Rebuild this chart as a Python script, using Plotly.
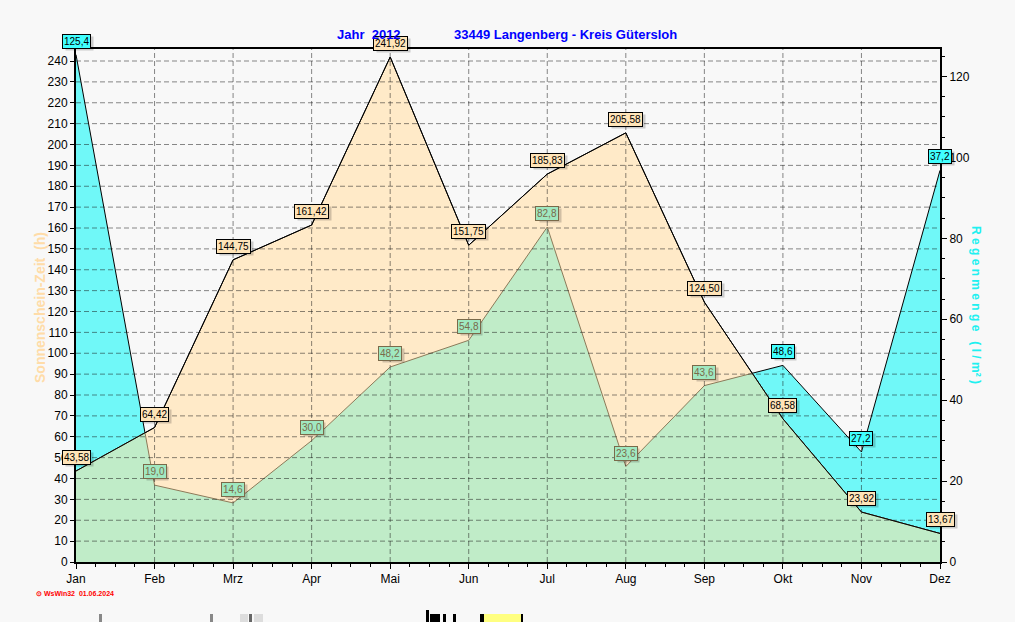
import plotly.graph_objects as go

months = ["Jan", "Feb", "Mrz", "Apr", "Mai", "Jun", "Jul", "Aug", "Sep", "Okt", "Nov", "Dez"]
sun_hours = [43.58, 64.42, 144.75, 161.42, 241.92, 151.75, 185.83, 205.58, 124.50, 68.58, 23.92, 13.67]
rain_mm = [125.4, 19.0, 14.6, 30.0, 48.2, 54.8, 82.8, 23.6, 43.6, 48.6, 27.2, 96.8]
rain_label_text = ["125,4", "19,0", "14,6", "30,0", "48,2", "54,8", "82,8", "23,6", "43,6", "48,6", "27,2", "37,2"]
left_ticks = list(range(0, 250, 10))
right_ticks = list(range(0, 140, 20))

L_MAX = 245.75
R_MAX = 126.8
ratio = L_MAX / R_MAX

xs = list(range(len(months)))
rain_l = [r * ratio for r in rain_mm]

# overlap (min) curve, with crossing points
ox, oy = [], []
for i in range(len(xs)):
    ox.append(xs[i]); oy.append(min(sun_hours[i], rain_l[i]))
    if i < len(xs) - 1:
        d0 = sun_hours[i] - rain_l[i]
        d1 = sun_hours[i + 1] - rain_l[i + 1]
        if d0 * d1 < 0:
            t = d0 / (d0 - d1)
            ox.append(xs[i] + t)
            oy.append(sun_hours[i] + t * (sun_hours[i + 1] - sun_hours[i]))

CYAN = "#70F8F8"
BEIGE = "#FFEAC8"
GREEN = "#C0ECC8"
BG = "#F8F8F8"

fig = go.Figure()
fig.add_trace(go.Scatter(x=xs, y=rain_l, mode="lines", fill="tozeroy", fillcolor=CYAN,
                         line=dict(color="black", width=1), hoverinfo="skip", showlegend=False))
fig.add_trace(go.Scatter(x=xs, y=sun_hours, mode="lines", fill="tozeroy", fillcolor=BEIGE,
                         line=dict(color="black", width=1), hoverinfo="skip", showlegend=False))
fig.add_trace(go.Scatter(x=ox, y=oy, mode="lines", fill="tozeroy", fillcolor=GREEN,
                         line=dict(color="#8C7A5A", width=1), hoverinfo="skip", showlegend=False))
fig.add_trace(go.Scatter(x=xs, y=sun_hours, mode="lines",
                         line=dict(color="black", width=1), hoverinfo="skip", showlegend=False))
# invisible trace to activate right axis
fig.add_trace(go.Scatter(x=xs, y=rain_mm, yaxis="y2", mode="lines", opacity=0,
                         line=dict(width=0), hoverinfo="skip", showlegend=False))

shapes = []
GRID = dict(color="rgba(20,20,20,0.5)", width=1, dash="5px,3px")
for v in left_ticks[1:]:
    shapes.append(dict(type="line", xref="x", yref="y", x0=0, x1=11, y0=v, y1=v, line=GRID, layer="above"))
for i in xs[1:-1]:
    shapes.append(dict(type="line", xref="x", yref="y", x0=i, x1=i, y0=0, y1=L_MAX, line=GRID, layer="above"))

def px(x):
    return (x - 76) / 864
def py(y):
    return (562 - y) / 513

# bottom artifacts (cropped elements)
for (x0, x1, c) in [(99, 102, "#888"), (210, 213, "#888"), (249, 252, "#666"), (240, 248, "#ddd"), (254, 263, "#ddd")]:
    shapes.append(dict(type="rect", xref="paper", yref="paper", x0=px(x0), x1=px(x1), y0=py(622), y1=py(614),
                       fillcolor=c, line=dict(width=0), layer="above"))
for (x0, x1, y0, c) in [(426, 429, 610, "black"), (430, 440, 614, "black"), (443, 446, 614, "black"),
                        (453, 456, 614, "black"), (480, 484, 614, "black"), (484, 521, 614, "#FFFF80"),
                        (521, 523, 614, "black")]:
    shapes.append(dict(type="rect", xref="paper", yref="paper", x0=px(x0), x1=px(x1), y0=py(622), y1=py(y0),
                       fillcolor=c, line=dict(width=0), layer="above"))

ann = []
FONT = "Arial, Liberation Sans, sans-serif"

def blank(text):
    # same-width invisible placeholder for the drop shadow box
    return "".join("\u2007" if ch.isdigit() else "\u2008" for ch in text)

def label(x, y, yref, text, bg, fg, border):
    ann.append(dict(x=x, y=y, xref="x", yref=yref, text=blank(text), showarrow=False, yanchor="bottom",
                    yshift=4, xshift=3, bgcolor="rgba(0,0,0,0.18)", bordercolor="rgba(0,0,0,0)", borderwidth=1,
                    borderpad=1, font=dict(family=FONT, size=10, color="rgba(0,0,0,0)")))
    ann.append(dict(x=x, y=y, xref="x", yref=yref, text=text, showarrow=False, yanchor="bottom",
                    yshift=6, bgcolor=bg, bordercolor=border, borderwidth=1,
                    borderpad=1, font=dict(family=FONT, size=10, color=fg)))

for i in xs:
    label(i, sun_hours[i], "y", f"{sun_hours[i]:.2f}".replace(".", ","), "#FFE4B8", "black", "black")
for i in xs:
    txt = rain_label_text[i]
    if rain_l[i] > sun_hours[i]:
        label(i, rain_mm[i], "y2", txt, "#40FFFF", "black", "black")
    else:
        label(i, rain_mm[i], "y2", txt, "#A0E8C0", "#7A6A4A", "#7A6A4A")

ann.append(dict(x=px(369), y=py(35), xref="paper", yref="paper", text="Jahr  2012", showarrow=False,
                xanchor="center", yanchor="middle",
                font=dict(family=FONT, size=13, color="#0000FF", weight="bold")))
ann.append(dict(x=px(565), y=py(35), xref="paper", yref="paper", text="33449 Langenberg - Kreis Gütersloh",
                showarrow=False, xanchor="center", yanchor="middle",
                font=dict(family=FONT, size=13, color="#0000FF", weight="bold")))
ann.append(dict(x=px(40), y=py(308), xref="paper", yref="paper", text="Sonnenschein-Zeit  (h)", showarrow=False,
                xanchor="center", yanchor="middle", textangle=-90,
                font=dict(family=FONT, size=14, color="#FFDCA8", weight="bold")))
ann.append(dict(x=px(976), y=py(305), xref="paper", yref="paper", text="R e g e n m e n g e   ( l / m² )",
                showarrow=False, xanchor="center", yanchor="middle", textangle=90,
                font=dict(family=FONT, size=12, color="#20F0F0", weight="bold")))
ann.append(dict(x=px(34), y=py(593), xref="paper", yref="paper", text="⊙ WsWin32  01.06.2024", showarrow=False,
                xanchor="left", yanchor="middle", font=dict(family=FONT, size=7, color="#FF0000", weight="bold")))

fig.update_layout(
    width=1015, height=622,
    margin=dict(l=76, r=75, t=49, b=60),
    paper_bgcolor=BG, plot_bgcolor=BG,
    showlegend=False,
    shapes=shapes, annotations=ann,
    xaxis=dict(range=[0, 11], tickmode="array", tickvals=xs, ticktext=months, ticks="outside", ticklen=5,
               tickcolor="black", showline=True, linecolor="black", linewidth=2, mirror=True,
               showgrid=False, zeroline=False, tickfont=dict(family=FONT, size=12, color="black"),
               minor=dict(tickmode="linear", tick0=0, dtick=0.25, ticks="outside", ticklen=3, tickcolor="black",
                          showgrid=False)),
    yaxis=dict(range=[0, L_MAX], tickmode="array", tickvals=left_ticks, ticks="outside", ticklen=4,
               tickcolor="black", showline=True, linecolor="black", linewidth=2, showgrid=False,
               zeroline=False, tickfont=dict(family=FONT, size=12, color="black")),
    yaxis2=dict(range=[0, R_MAX], overlaying="y", side="right", tickmode="array", tickvals=right_ticks,
                ticks="outside", ticklen=5, tickcolor="black", showline=True, linecolor="black", linewidth=2,
                showgrid=False, zeroline=False, tickfont=dict(family=FONT, size=12, color="black"),
                minor=dict(tickmode="linear", tick0=0, dtick=5, ticks="outside", ticklen=3, tickcolor="black",
                           showgrid=False)),
)

fig.write_html("out.html")
